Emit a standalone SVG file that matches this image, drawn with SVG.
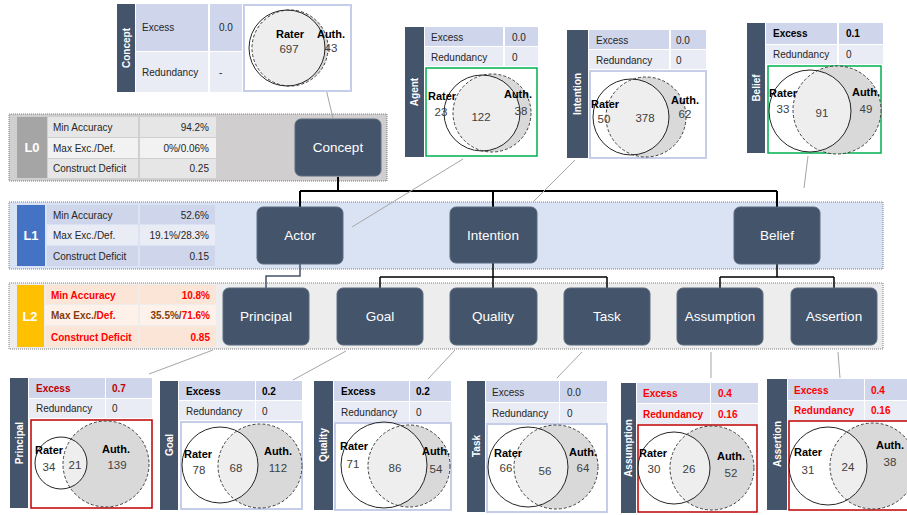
<svg xmlns="http://www.w3.org/2000/svg" width="907" height="515" viewBox="0 0 907 515">
<style>
text{font-family:"Liberation Sans",Arial,sans-serif}
.bar{fill:#44546a}
.bt{fill:#fff;font-size:10px;font-weight:bold;text-anchor:middle}
.r1{fill:#cfd5ea}.r2{fill:#e9ebf5}
.tl{font-size:10px;fill:#262626}
.tb{font-size:10px;fill:#000;font-weight:bold}
.tr{font-size:10px;fill:#ff0000;font-weight:bold}
.vb{fill:#fff;stroke:#c5cde8;stroke-width:2}
.vg{fill:#fff;stroke:#00b050;stroke-width:1.5}
.vr{fill:#fff;stroke:#c00000;stroke-width:1.5}
.au{fill:#d9d9d9}
.ra{fill:#fff;fill-opacity:.55}
.aus{fill:none;stroke:#404040;stroke-width:1;stroke-dasharray:3,2}
.ras{fill:none;stroke:#262626;stroke-width:1}
.vl{font-size:11px;font-weight:bold;fill:#000;text-anchor:middle}
.vn{font-size:11.5px;fill:#404040;text-anchor:middle}
.band{stroke:#7f7f7f;stroke-width:1;stroke-dasharray:1,1}
.node rect{fill:#44546a;stroke:#5a6a80;stroke-width:1}
.node text{fill:#fff;font-size:13.5px;text-anchor:middle}
.lv{fill:#fff;font-size:13px;font-weight:bold;text-anchor:middle}
.c1{fill:#e7e6e6}.c2{fill:#f2f2f2}
.o1{fill:#fbe5d6}.o2{fill:#fdf1e9}
.val{text-anchor:end}
.ed{stroke:#000;stroke-width:2;fill:none}
.es{stroke:#44546a;stroke-width:1.5;fill:none}
.co{stroke:#a6a6a6;stroke-width:1;fill:none}
</style>

<!-- Level bands -->
<g id="L0">
<rect class="band" x="9" y="114" width="378" height="67" fill="#d0cece"/>
<rect x="17" y="117" width="30" height="61" fill="#a5a5a5"/>
<text class="lv" x="32" y="152">L0</text>
<rect class="c1" x="48" y="117" width="90" height="20"/><rect class="c1" x="140" y="117" width="76" height="20"/>
<rect class="c2" x="48" y="138" width="90" height="20"/><rect class="c2" x="140" y="138" width="76" height="20"/>
<rect class="c1" x="48" y="159" width="90" height="19"/><rect class="c1" x="140" y="159" width="76" height="19"/>
<text class="tl" x="53" y="131">Min Accuracy</text><text class="tl val" x="209" y="131">94.2%</text>
<text class="tl" x="53" y="152">Max Exc./Def.</text><text class="tl val" x="209" y="152">0%/0.06%</text>
<text class="tl" x="53" y="172">Construct Deficit</text><text class="tl val" x="209" y="172">0.25</text>
</g>
<g id="L1">
<rect class="band" x="9" y="202" width="874" height="67" fill="#dae3f3"/>
<rect x="17" y="205" width="28" height="61" fill="#4472c4"/>
<text class="lv" x="31" y="240">L1</text>
<rect class="r1" x="47" y="205" width="91" height="19"/><rect class="r1" x="140" y="205" width="75" height="19"/>
<rect class="r2" x="47" y="225" width="91" height="20"/><rect class="r2" x="140" y="225" width="75" height="20"/>
<rect class="r1" x="47" y="246" width="91" height="20"/><rect class="r1" x="140" y="246" width="75" height="20"/>
<text class="tl" x="53" y="219">Min Accuracy</text><text class="tl val" x="209" y="219">52.6%</text>
<text class="tl" x="53" y="239">Max Exc./Def.</text><text class="tl val" x="209" y="239">19.1%/28.3%</text>
<text class="tl" x="53" y="260">Construct Deficit</text><text class="tl val" x="209" y="260">0.15</text>
</g>
<g id="L2">
<rect class="band" x="9" y="283" width="874" height="66" fill="#ededed"/>
<rect x="17" y="285" width="27" height="62" fill="#ffc000"/>
<text class="lv" x="30" y="321">L2</text>
<rect class="o1" x="45" y="285" width="93" height="19"/><rect class="o1" x="140" y="285" width="76" height="19"/>
<rect class="o2" x="45" y="305" width="93" height="20"/><rect class="o2" x="140" y="305" width="76" height="20"/>
<rect class="o1" x="45" y="326" width="93" height="21"/><rect class="o1" x="140" y="326" width="76" height="21"/>
<text class="tr" x="51" y="299">Min Accuracy</text><text class="tr val" x="210" y="299">10.8%</text>
<text class="tr" x="51" y="319"><tspan fill="#843c0c">Max Exc./</tspan>Def.</text><text class="tr val" x="210" y="319"><tspan fill="#843c0c">35.5%/</tspan>71.6%</text>
<text class="tr" x="51" y="341">Construct Deficit</text><text class="tr val" x="210" y="341">0.85</text>
</g>

<!-- Connectors -->
<g id="connectors">
<path class="ed" d="M338 177V191M300 191H777M300 191V207M493 191V207M777 191V207"/>
<path class="es" d="M300 264V276H266V288"/>
<path class="ed" style="stroke-width:1.5" d="M493 263V277M380 277H607M380 277V288M493 277V288M607 277V288"/>
<path class="ed" style="stroke-width:1.5" d="M777 264V277M720 277H834M720 277V288M834 277V288"/>
<path class="co" d="M326 89L333 118M463 159L352 227M575 160L533 202M808 156L804 188M149 374L213 350M293 380L346 351M428 379L455 350M557 378L582 352M711 378V352M840 378L838 352"/>
</g>

<!-- Nodes -->
<g id="n-concept" class="node"><rect x="295" y="119" width="86" height="57" rx="6"/><text x="338" y="152">Concept</text></g>
<g id="n-actor" class="node"><rect x="257" y="207" width="86" height="57" rx="6"/><text x="300" y="240">Actor</text></g>
<g id="n-intention" class="node"><rect x="450" y="207" width="87" height="56" rx="6"/><text x="493" y="240">Intention</text></g>
<g id="n-belief" class="node"><rect x="734" y="207" width="86" height="57" rx="6"/><text x="777" y="240">Belief</text></g>
<g id="n-principal" class="node"><rect x="223" y="288" width="86" height="57" rx="6"/><text x="266" y="321">Principal</text></g>
<g id="n-goal" class="node"><rect x="337" y="288" width="86" height="57" rx="6"/><text x="380" y="321">Goal</text></g>
<g id="n-quality" class="node"><rect x="450" y="288" width="87" height="57" rx="6"/><text x="493" y="321">Quality</text></g>
<g id="n-task" class="node"><rect x="564" y="288" width="86" height="57" rx="6"/><text x="607" y="321">Task</text></g>
<g id="n-assumption" class="node"><rect x="677" y="288" width="86" height="57" rx="6"/><text x="720" y="321">Assumption</text></g>
<g id="n-assertion" class="node"><rect x="791" y="288" width="86" height="57" rx="6"/><text x="834" y="321">Assertion</text></g>

<!-- Callout: Concept -->
<g id="cb-concept">
<rect class="bar" x="117" y="4" width="18" height="88"/>
<text class="bt" transform="translate(130 48) rotate(-90)">Concept</text>
<rect class="r1" x="136" y="4" width="72" height="47"/><rect class="r1" x="210" y="4" width="32" height="47"/>
<rect class="r2" x="136" y="52" width="72" height="40"/><rect class="r2" x="210" y="52" width="32" height="40"/>
<text class="tl" x="142" y="31">Excess</text><text class="tl" x="219" y="31">0.0</text>
<text class="tl" x="142" y="76">Redundancy</text><text class="tl" x="219" y="76">-</text>
<rect class="vb" x="244" y="5" width="107" height="86"/>
<circle class="au" cx="290" cy="48" r="38"/><circle class="ra" cx="287" cy="48" r="38"/>
<circle class="aus" cx="290" cy="48" r="38"/><circle class="ras" cx="287" cy="48" r="38"/>
<text class="vl" x="290" y="38">Rater</text><text class="vn" x="289" y="53">697</text>
<text class="vl" x="331" y="38">Auth.</text><text class="vn" x="331" y="52" fill="#7f6000">43</text>
</g>

<!-- Callout: Agent -->
<g id="cb-agent">
<rect class="bar" x="405" y="27" width="19" height="130"/>
<text class="bt" transform="translate(418 92) rotate(-90)">Agent</text>
<rect class="r1" x="425" y="27" width="78" height="19"/><rect class="r1" x="505" y="27" width="33" height="19"/>
<rect class="r2" x="425" y="47" width="78" height="19"/><rect class="r2" x="505" y="47" width="33" height="19"/>
<text class="tl" x="431" y="41">Excess</text><text class="tl" x="512" y="41">0.0</text>
<text class="tl" x="431" y="61">Redundancy</text><text class="tl" x="512" y="61">0</text>
<rect class="vg" x="426" y="68" width="111" height="88"/>
<circle class="au" cx="492" cy="113" r="39"/><circle class="ra" cx="482" cy="113" r="38"/>
<circle class="aus" cx="492" cy="113" r="39"/><circle class="ras" cx="482" cy="113" r="38"/>
<text class="vl" x="442" y="100">Rater</text><text class="vn" x="441" y="116">23</text>
<text class="vn" x="481" y="121">122</text>
<text class="vl" x="518" y="98">Auth.</text><text class="vn" x="521" y="115">38</text>
</g>

<!-- Callout: Intention -->
<g id="cb-intention">
<rect class="bar" x="567" y="30" width="21" height="128"/>
<text class="bt" transform="translate(581 94) rotate(-90)">Intention</text>
<rect class="r1" x="589" y="30" width="80" height="19"/><rect class="r1" x="671" y="30" width="35" height="19"/>
<rect class="r2" x="589" y="50" width="80" height="19"/><rect class="r2" x="671" y="50" width="35" height="19"/>
<text class="tl" x="596" y="44">Excess</text><text class="tl" x="676" y="44">0.0</text>
<text class="tl" x="596" y="64">Redundancy</text><text class="tl" x="676" y="64">0</text>
<rect class="vb" x="590" y="71" width="116" height="87"/>
<circle class="au" cx="646" cy="117" r="40"/><circle class="ra" cx="631" cy="117" r="38"/>
<circle class="aus" cx="646" cy="117" r="40"/><circle class="ras" cx="631" cy="117" r="38"/>
<text class="vl" x="605" y="108">Rater</text><text class="vn" x="604" y="123">50</text>
<text class="vn" x="645" y="122">378</text>
<text class="vl" x="685" y="104">Auth.</text><text class="vn" x="685" y="118">62</text>
</g>

<!-- Callout: Belief -->
<g id="cb-belief">
<rect class="bar" x="747" y="23" width="18" height="130"/>
<text class="bt" transform="translate(760 88) rotate(-90)">Belief</text>
<rect class="r1" x="766" y="23" width="71" height="21"/><rect class="r1" x="839" y="23" width="44" height="21"/>
<rect class="r2" x="766" y="45" width="71" height="19"/><rect class="r2" x="839" y="45" width="44" height="19"/>
<text class="tb" x="773" y="37">Excess</text><text class="tb" x="846" y="37">0.1</text>
<text class="tl" x="773" y="58">Redundancy</text><text class="tl" x="846" y="58">0</text>
<rect class="vg" x="768" y="66" width="113" height="87"/>
<circle class="au" cx="837" cy="110" r="44"/><circle class="ra" cx="810" cy="111" r="41"/>
<circle class="aus" cx="837" cy="110" r="44"/><circle class="ras" cx="810" cy="111" r="41"/>
<text class="vl" x="783" y="97">Rater</text><text class="vn" x="783" y="113">33</text>
<text class="vn" x="822" y="117">91</text>
<text class="vl" x="866" y="96">Auth.</text><text class="vn" x="866" y="113">49</text>
</g>

<!-- Callout: Principal -->
<g id="cb-principal">
<rect class="bar" x="10" y="378" width="18" height="130"/>
<text class="bt" transform="translate(23 443) rotate(-90)">Principal</text>
<rect class="r1" x="29" y="378" width="76" height="20"/><rect class="r1" x="106" y="378" width="46" height="20"/>
<rect class="r2" x="29" y="399" width="76" height="19"/><rect class="r2" x="106" y="399" width="46" height="19"/>
<text style="font-size:10px;font-weight:bold;fill:#c00000" x="36" y="392">Excess</text><text style="font-size:10px;font-weight:bold;fill:#c00000" x="112" y="392">0.7</text>
<text class="tl" x="36" y="412">Redundancy</text><text class="tl" x="112" y="412">0</text>
<rect class="vr" x="31" y="420" width="121" height="88"/>
<circle class="au" cx="106" cy="464" r="43"/><circle class="ra" cx="61" cy="463" r="26"/>
<circle class="aus" cx="106" cy="464" r="43"/><circle class="ras" cx="61" cy="463" r="26"/>
<text class="vl" x="49" y="454">Rater</text><text class="vn" x="49" y="471">34</text>
<text class="vn" x="75" y="469">21</text>
<text class="vl" x="116" y="453">Auth.</text><text class="vn" x="117" y="469">139</text>
</g>

<!-- Callout: Goal -->
<g id="cb-goal">
<rect class="bar" x="160" y="381" width="18" height="129"/>
<text class="bt" transform="translate(173 445) rotate(-90)">Goal</text>
<rect class="r1" x="179" y="381" width="76" height="19"/><rect class="r1" x="256" y="381" width="46" height="19"/>
<rect class="r2" x="179" y="401" width="76" height="19"/><rect class="r2" x="256" y="401" width="46" height="19"/>
<text class="tb" x="186" y="395">Excess</text><text class="tb" x="262" y="395">0.2</text>
<text class="tl" x="186" y="415">Redundancy</text><text class="tl" x="262" y="415">0</text>
<rect class="vb" x="181" y="422" width="121" height="87"/>
<circle class="au" cx="260" cy="466" r="42"/><circle class="ra" cx="220" cy="465" r="38"/>
<circle class="aus" cx="260" cy="466" r="42"/><circle class="ras" cx="220" cy="465" r="38"/>
<text class="vl" x="198" y="458">Rater</text><text class="vn" x="199" y="474">78</text>
<text class="vn" x="236" y="472">68</text>
<text class="vl" x="278" y="455">Auth.</text><text class="vn" x="278" y="472">112</text>
</g>

<!-- Callout: Quality -->
<g id="cb-quality">
<rect class="bar" x="314" y="381" width="19" height="129"/>
<text class="bt" transform="translate(327 445) rotate(-90)">Quality</text>
<rect class="r1" x="334" y="381" width="75" height="20"/><rect class="r1" x="410" y="381" width="41" height="20"/>
<rect class="r2" x="334" y="402" width="75" height="20"/><rect class="r2" x="410" y="402" width="41" height="20"/>
<text class="tb" x="341" y="395">Excess</text><text class="tb" x="416" y="395">0.2</text>
<text class="tl" x="341" y="416">Redundancy</text><text class="tl" x="416" y="416">0</text>
<rect class="vb" x="335" y="423" width="116" height="87"/>
<circle class="au" cx="409" cy="466" r="41"/><circle class="ra" cx="384" cy="465" r="43"/>
<circle class="aus" cx="409" cy="466" r="41"/><circle class="ras" cx="384" cy="465" r="43"/>
<text class="vl" x="354" y="450">Rater</text><text class="vn" x="353" y="468">71</text>
<text class="vn" x="395" y="472">86</text>
<text class="vl" x="436" y="455">Auth.</text><text class="vn" x="436" y="473">54</text>
</g>

<!-- Callout: Task -->
<g id="cb-task">
<rect class="bar" x="467" y="381" width="18" height="131"/>
<text class="bt" transform="translate(480 446) rotate(-90)">Task</text>
<rect class="r1" x="486" y="381" width="73" height="21"/><rect class="r1" x="560" y="381" width="47" height="21"/>
<rect class="r2" x="486" y="403" width="73" height="20"/><rect class="r2" x="560" y="403" width="47" height="20"/>
<text class="tl" x="492" y="396">Excess</text><text class="tl" x="567" y="396">0.0</text>
<text class="tl" x="492" y="417">Redundancy</text><text class="tl" x="567" y="417">0</text>
<rect class="vb" x="487" y="424" width="120" height="88"/>
<circle class="au" cx="556" cy="467" r="42"/><circle class="ra" cx="528" cy="467" r="40"/>
<circle class="aus" cx="556" cy="467" r="42"/><circle class="ras" cx="528" cy="467" r="40"/>
<text class="vl" x="508" y="457">Rater</text><text class="vn" x="506" y="472">66</text>
<text class="vn" x="545" y="475">56</text>
<text class="vl" x="583" y="456">Auth.</text><text class="vn" x="583" y="472">64</text>
</g>

<!-- Callout: Assumption -->
<g id="cb-assumption">
<rect class="bar" x="621" y="383" width="15" height="130"/>
<text class="bt" transform="translate(632 448) rotate(-90)">Assumption</text>
<rect class="r1" x="637" y="383" width="73" height="20"/><rect class="r1" x="711" y="383" width="47" height="20"/>
<rect class="r2" x="637" y="404" width="73" height="20"/><rect class="r2" x="711" y="404" width="47" height="20"/>
<text class="tr" x="643" y="397">Excess</text><text class="tr" x="718" y="397">0.4</text>
<text class="tr" x="643" y="418">Redundancy</text><text class="tr" x="718" y="418">0.16</text>
<rect class="vr" x="638" y="425" width="119" height="87"/>
<circle class="au" cx="712" cy="468" r="42"/><circle class="ra" cx="674" cy="468" r="36"/>
<circle class="aus" cx="712" cy="468" r="42"/><circle class="ras" cx="674" cy="468" r="36"/>
<text class="vl" x="653" y="457">Rater</text><text class="vn" x="654" y="473">30</text>
<text class="vn" x="689" y="473">26</text>
<text class="vl" x="731" y="460">Auth.</text><text class="vn" x="731" y="477">52</text>
</g>

<!-- Callout: Assertion -->
<g id="cb-assertion">
<rect class="bar" x="767" y="379" width="20" height="131"/>
<text class="bt" transform="translate(781 444) rotate(-90)">Assertion</text>
<rect class="r1" x="788" y="379" width="76" height="21"/><rect class="r1" x="865" y="379" width="42" height="21"/>
<rect class="r2" x="788" y="401" width="76" height="19"/><rect class="r2" x="865" y="401" width="42" height="19"/>
<text class="tr" x="794" y="394">Excess</text><text class="tr" x="871" y="394">0.4</text>
<text class="tr" x="794" y="414">Redundancy</text><text class="tr" x="871" y="414">0.16</text>
<rect class="vr" x="789" y="421" width="120" height="89"/>
<circle class="au" cx="873" cy="466" r="43"/><circle class="ra" cx="828" cy="466" r="39"/>
<circle class="aus" cx="873" cy="466" r="43"/><circle class="ras" cx="828" cy="466" r="39"/>
<text class="vl" x="808" y="456">Rater</text><text class="vn" x="808" y="474">31</text>
<text class="vn" x="848" y="471">24</text>
<text class="vl" x="890" y="449">Auth.</text><text class="vn" x="890" y="466">38</text>
</g>
</svg>
